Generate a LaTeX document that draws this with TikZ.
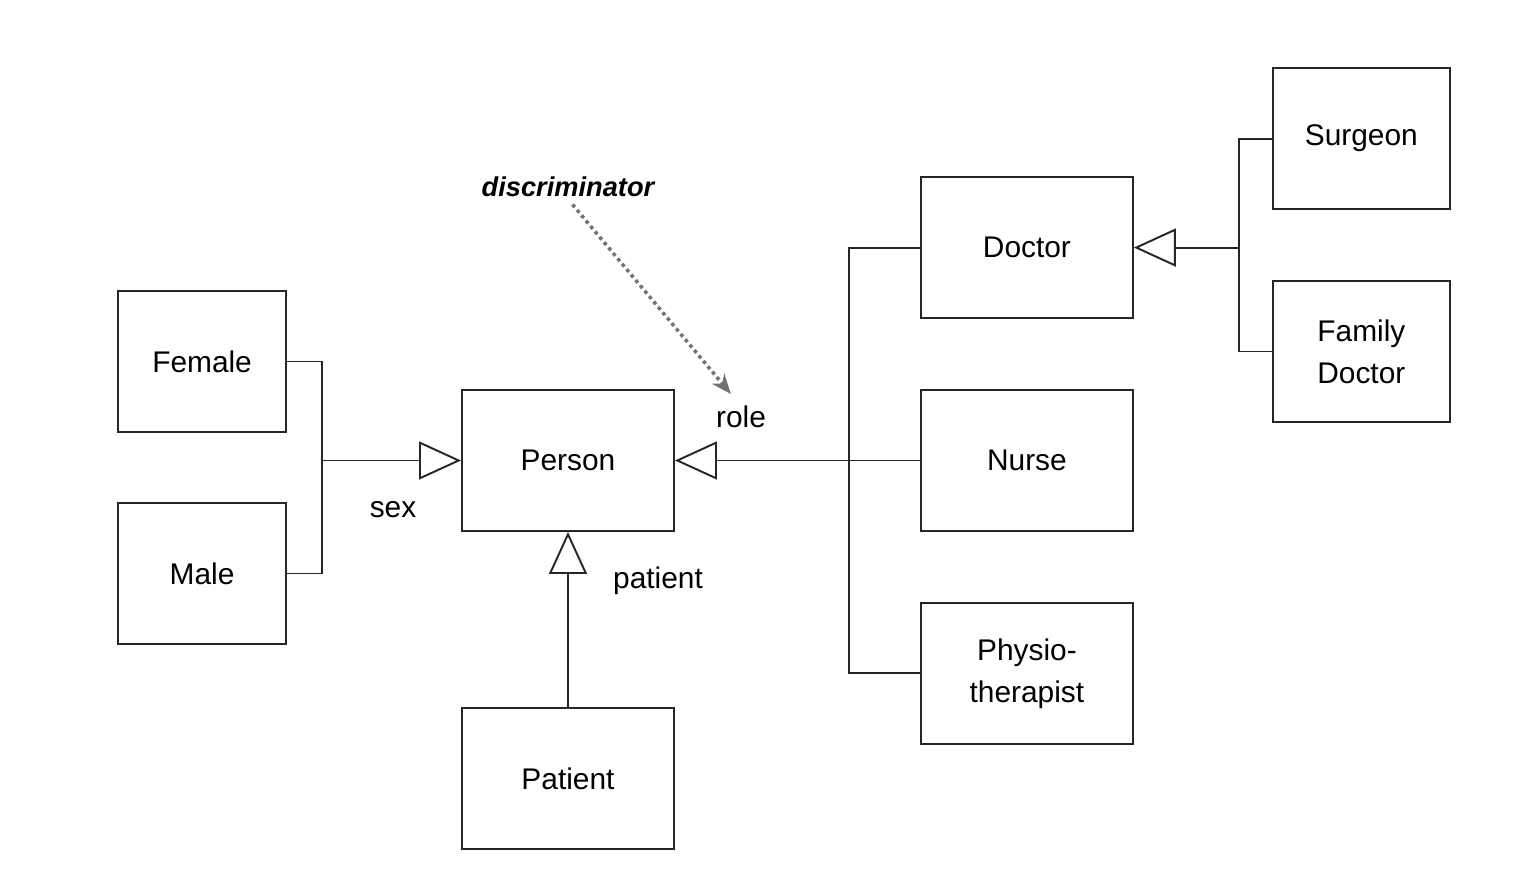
\documentclass[tikz,border=0pt]{standalone}
\usepackage{fontspec}
\setmainfont{Liberation Sans}
\usetikzlibrary{arrows.meta,positioning,calc}

\begin{document}
\begin{tikzpicture}[
  node distance=1.4cm and 4.9cm,
  cls/.style={rectangle, draw=black!85, line width=1.1pt, fill=white, align=center,
              minimum width=4.24cm, minimum height=2.82cm, inner sep=1mm,
              font=\fontsize{17}{24}\selectfont},
  lbl/.style={inner sep=1pt, font=\fontsize{17}{24}\selectfont},
  gen/.style={-{Triangle[open, length=8.4mm, width=7.6mm]}, line width=1.1pt, black!85},
  bar/.style={line width=1.1pt, black!85},
  disc/.style={-{Stealth[length=4mm, width=3.2mm]}, dotted, line width=2pt, black!55}
]
\useasboundingbox (-11.36,-8.17) rectangle (19.44,9.21);
\node[cls] (person) at (0,0) {Person};
\node[cls, below=3.5cm of person] (patient) {Patient};
\node[cls, right=of person] (nurse) {Nurse};
\node[cls, above=of nurse] (doctor) {Doctor};
\node[cls, below=of nurse] (physio) {Physio-\\therapist};
\node[cls, minimum width=3.54cm, above right=0.75cm and 2.76cm of doctor.east] (surgeon) {Surgeon};
\node[cls, minimum width=3.54cm, below=of surgeon] (famdoc) {Family\\Doctor};
\node[cls, minimum width=3.36cm, above left=0.55cm and 3.48cm of person.west] (female) {Female};
\node[cls, minimum width=3.36cm, below=1.38cm of female] (male) {Male};
\node[lbl, font=\fontsize{15.5}{18}\selectfont\bfseries\itshape] (discr) at ($(person.north)+(0,4.04)$) {discriminator};
\node[lbl] (sexlbl) at ($(person.west)+(-1.36,-0.99)$) {sex};
\node[lbl] (rolelbl) at ($(person.east)+(1.32,0.87)$) {role};
\node[lbl] (patlbl) at ($(person.south)+(1.8,-0.98)$) {patient};
\coordinate[left=2.78cm of person.west] (sexbar);
\coordinate[right=3.48cm of person.east] (rolebar);
\coordinate[right=2.1cm of doctor.east] (docbar);
\coordinate (roletip) at ($(person.north east)+(1.12,-0.1)$);
\draw[bar] (female.east) -| (sexbar) |- (male.east);
\draw[gen] (sexbar) -- (person.west);
\draw[bar] (doctor.west) -| (rolebar) |- (physio.west);
\draw[gen] (nurse.west) -- (person.east);
\draw[gen] (patient.north) -- (person.south);
\draw[bar] (surgeon.west) -| (docbar) |- (famdoc.west);
\draw[gen] (docbar) -- (doctor.east);
\draw[disc, shorten <=4pt] (discr.south) -- (roletip);
\end{tikzpicture}
\end{document}
